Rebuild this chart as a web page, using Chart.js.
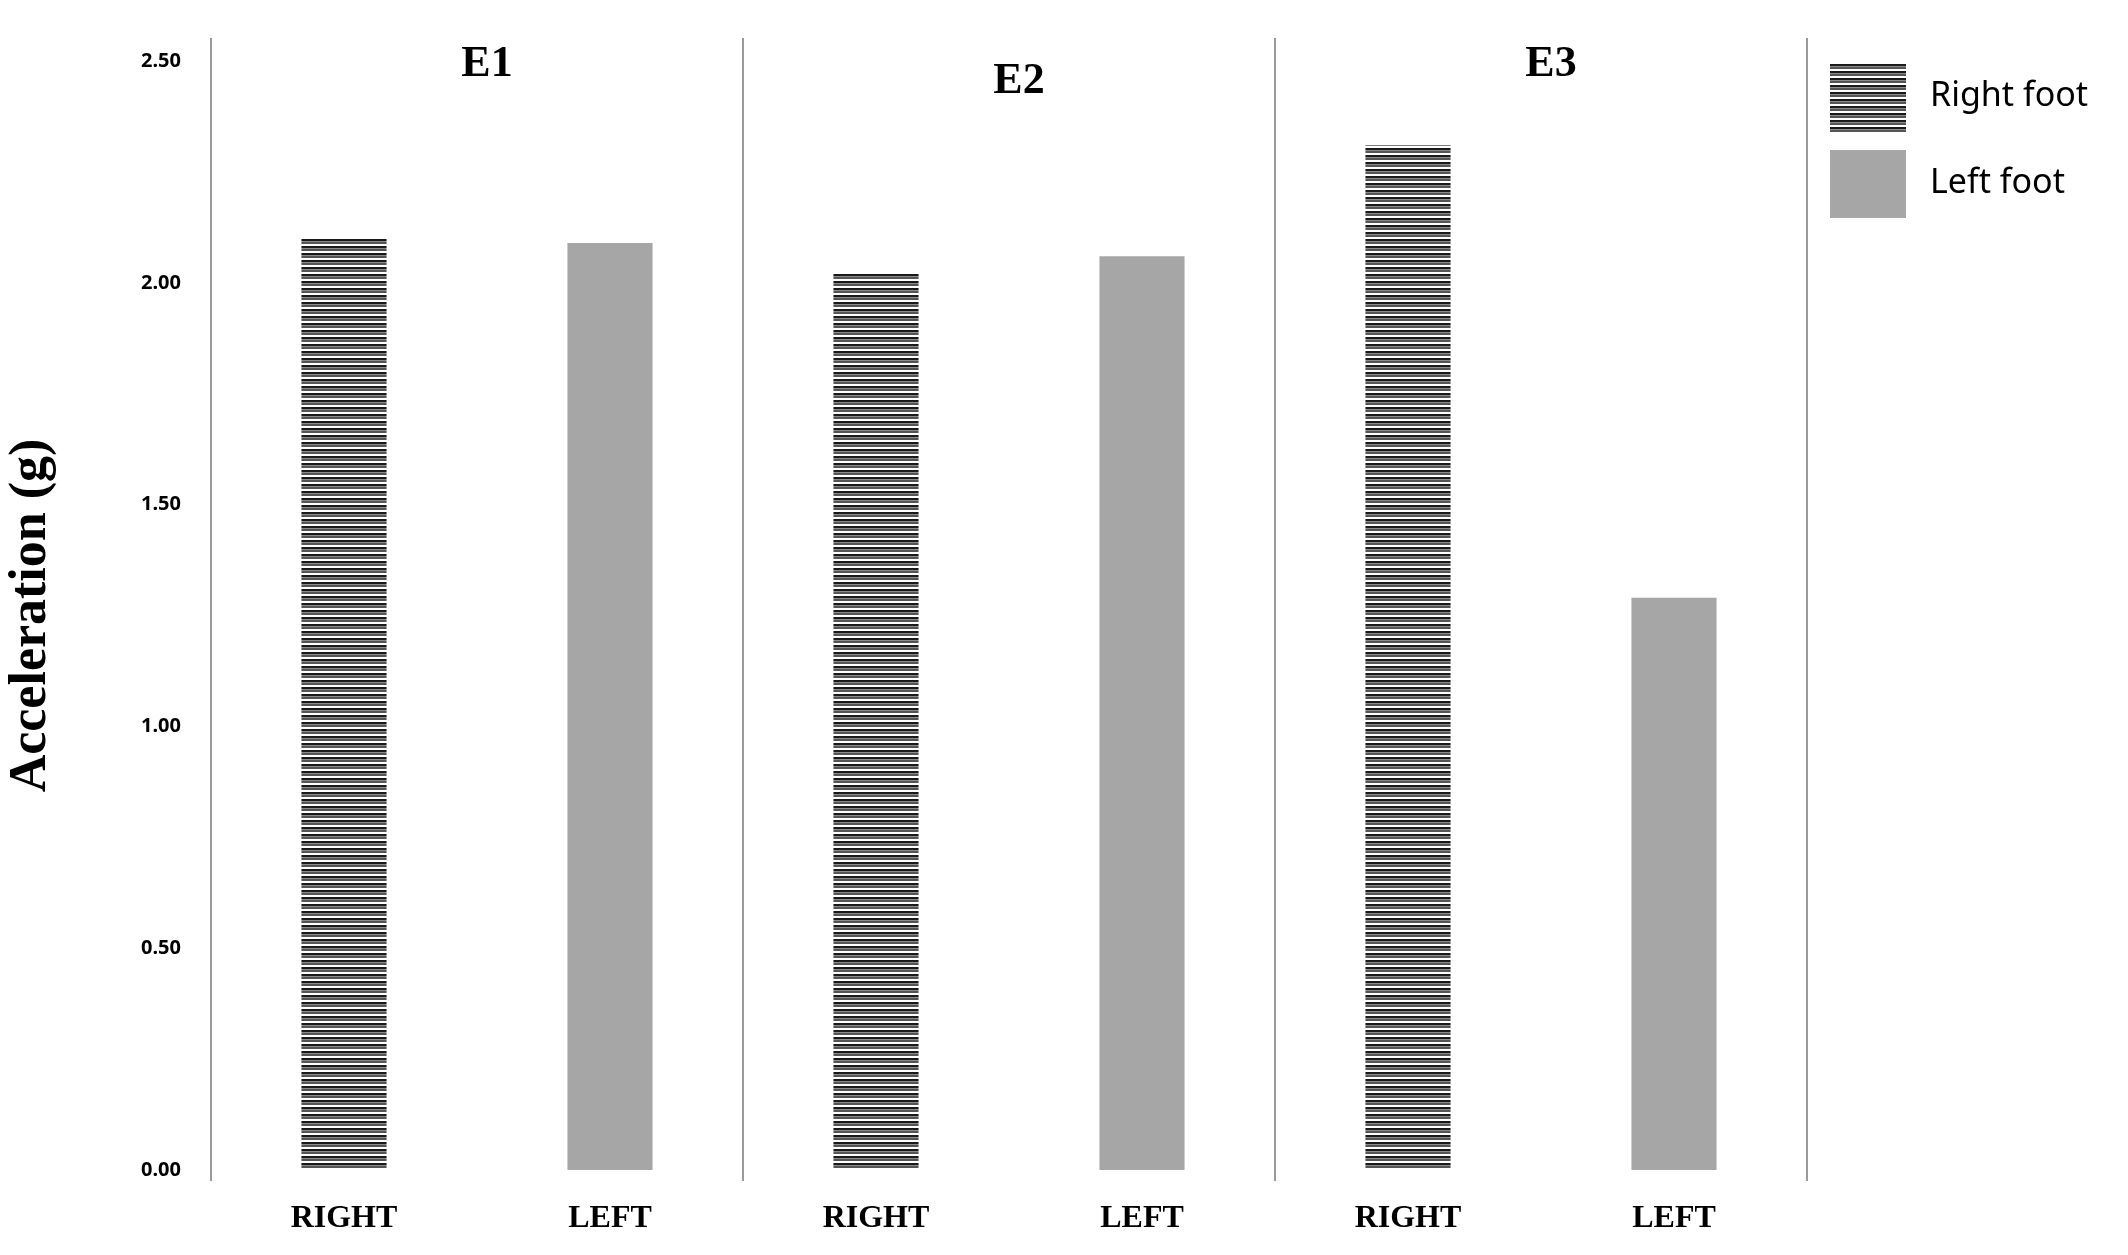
<!DOCTYPE html>
<html><head><meta charset="utf-8">
<script src="https://cdn.jsdelivr.net/npm/chart.js@4"></script>
<style>html,body{margin:0;padding:0;background:#fff}#c{display:block}</style>
</head><body>
<canvas id="c" width="2128" height="1255"></canvas>
<script>
const categories = ["RIGHT","LEFT","RIGHT","LEFT","RIGHT","LEFT"];
const groups = ["E1","E2","E3"];
const rightFoot = [2.10, null, 2.02, null, 2.31, null];
const leftFoot = [null, 2.09, null, 2.06, null, 1.29];
const yTicks = [0, 0.5, 1.0, 1.5, 2.0, 2.5];

function stripePattern(){
  const p = document.createElement('canvas'); p.width = 8; p.height = 7;
  const g = p.getContext('2d');
  g.fillStyle = '#fff'; g.fillRect(0,0,8,7);
  g.fillStyle = '#1a1a1a'; g.fillRect(0,1,8,2);
  g.fillStyle = '#8a8a8a'; g.fillRect(0,3,8,1);
  g.fillStyle = '#555'; g.fillRect(0,4,8,2);
  return document.getElementById('c').getContext('2d').createPattern(p,'repeat');
}
const stripes = stripePattern();
const GREY = '#a6a6a6';

const deco = {
  id:'deco',
  afterDraw(chart){
    const ctx = chart.ctx, x = chart.scales.x, a = chart.chartArea;
    ctx.save();
    ctx.strokeStyle = '#9a9a9a'; ctx.lineWidth = 2;
    const lines = [a.left];
    for (let i=1;i<=3;i++){ lines.push((x.getPixelForValue(i*2-1)+x.getPixelForValue(i*2))/2 || a.right); }
    lines[3] = a.right;
    lines.forEach(px=>{ctx.beginPath();ctx.moveTo(px,38);ctx.lineTo(px,1181);ctx.stroke();});
    ctx.fillStyle = '#000'; ctx.font = 'bold 44px "Liberation Serif"'; ctx.textAlign='center'; ctx.textBaseline='middle';
    const ys=[65,82,65];
    groups.forEach((g,i)=>{
      const cx = (x.getPixelForValue(i*2)+x.getPixelForValue(i*2+1))/2 + 10;
      ctx.fillText(g, cx, ys[i]);
    });
    // legend
    ctx.fillStyle = stripes; ctx.fillRect(1830,64,76,68);
    ctx.fillStyle = GREY; ctx.fillRect(1830,150,76,68);
    ctx.fillStyle = '#000'; ctx.font = '34px "Noto Sans"'; ctx.textAlign='left';
    ctx.fillText('Right foot', 1930, 96);
    ctx.fillText('Left foot', 1930, 183);
    ctx.restore();
  }
};

new Chart(document.getElementById('c'), {
  type:'bar',
  data:{labels:categories, datasets:[
    {label:'Right foot', data:rightFoot, backgroundColor:stripes, skipNull:true},
    {label:'Left foot', data:leftFoot, backgroundColor:GREY, skipNull:true}
  ]},
  options:{
    responsive:false, animation:false,
    datasets:{bar:{categoryPercentage:1, barPercentage:0.32, grouped:false}},
    layout:{padding:{top:61,right:2128-1807,left:0,bottom:0}},
    plugins:{legend:{display:false},tooltip:{enabled:false}},
    scales:{
      x:{grid:{display:false},border:{display:false},
        ticks:{color:'#000',font:{family:'Liberation Serif',weight:'bold',size:32},padding:22,maxRotation:0},
        afterFit(s){s.height=85;}},
      y:{min:0,max:2.5,grid:{display:false},border:{display:false},
        afterBuildTicks(s){s.ticks=yTicks.map(v=>({value:v}));},
        ticks:{color:'#000',font:{family:'Noto Sans',weight:'bold',size:20},padding:22,callback:v=>v.toFixed(2)},
        title:{display:true,text:'Acceleration (g)',color:'#000',font:{family:'Liberation Serif',weight:'bold',size:52},padding:{top:0,bottom:14}},
        afterFit(s){s.width=211;}}
    }
  },
  plugins:[deco]
});
</script>
</body></html>
